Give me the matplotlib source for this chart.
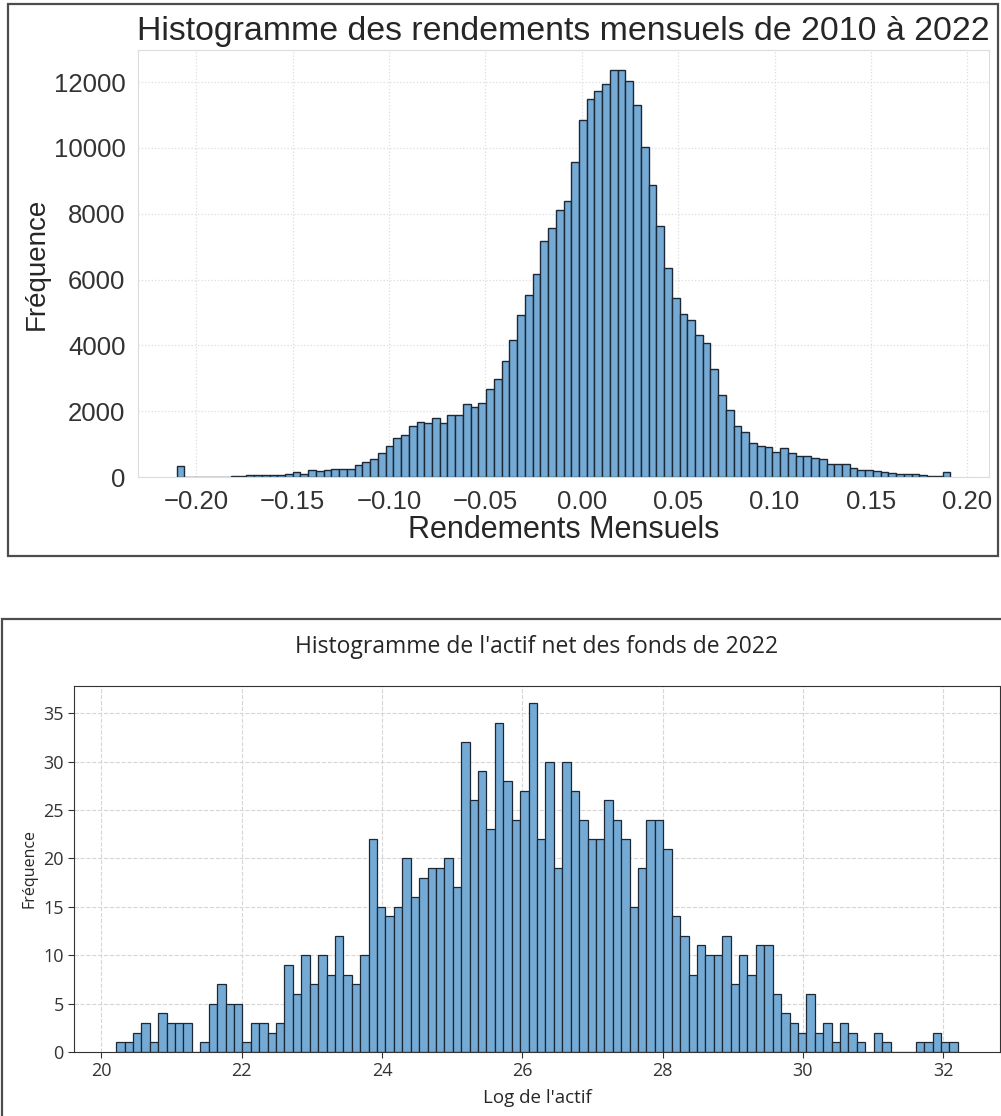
import numpy as np
import matplotlib.pyplot as plt
from matplotlib.patches import Rectangle

# Rendements mensuels 2010-2022 : 100 classes entre le min et le max
ret_min, ret_max = -0.2102, 0.1912
ret_counts = [330, 10, 5, 5, 5, 5, 10, 40, 40, 50,
              50, 50, 50, 60, 100, 150, 100, 200, 170, 220,
              250, 250, 250, 360, 460, 540, 740, 950, 1190, 1290,
              1550, 1670, 1630, 1780, 1630, 1875, 1875, 2220, 2140, 2260,
              2680, 2975, 3515, 4150, 4910, 5540, 6165, 7180, 7560, 8100,
              8385, 9580, 10850, 11485, 11720, 11940, 12360, 12360, 12025, 11310,
              10040, 8865, 7640, 6340, 5450, 4940, 4770, 4310, 4065, 3290,
              2500, 2040, 1550, 1375, 1040, 950, 920, 745, 890, 715,
              630, 630, 580, 540, 410, 380, 380, 285, 205, 205,
              175, 150, 130, 80, 80, 80, 70, 30, 20, 150]
ret_xticks = [-0.20, -0.15, -0.10, -0.05, 0.00, 0.05, 0.10, 0.15, 0.20]
ret_yticks = [0, 2000, 4000, 6000, 8000, 10000, 12000]

# Log de l'actif net des fonds en 2022 : 100 classes
actif_min, actif_max = 20.21, 32.21
actif_counts = [1, 1, 2, 3, 1, 4, 3, 3, 3, 0,
                1, 5, 7, 5, 5, 1, 3, 3, 2, 3,
                9, 6, 10, 7, 10, 8, 12, 8, 7, 10,
                22, 15, 14, 15, 20, 16, 18, 19, 19, 20,
                17, 32, 26, 29, 23, 34, 28, 24, 27, 36,
                22, 30, 19, 30, 27, 24, 22, 22, 26, 24,
                22, 15, 19, 24, 24, 21, 14, 12, 8, 11,
                10, 10, 12, 7, 10, 8, 11, 11, 6, 4,
                3, 2, 6, 2, 3, 1, 3, 2, 1, 0,
                2, 1, 0, 0, 0, 1, 1, 2, 1, 1]
actif_xticks = [20, 22, 24, 26, 28, 30, 32]
actif_yticks = [0, 5, 10, 15, 20, 25, 30, 35]

W, H = 1001, 1116
fig = plt.figure(figsize=(W / 100, H / 100), dpi=100)


def px(x0, y0, x1, y1):
    # boite en pixels (haut-gauche -> bas-droite) vers fractions de figure
    return [x0 / W, 1 - y1 / H, (x1 - x0) / W, (y1 - y0) / H]


# cadres des deux captures
fig.add_artist(Rectangle((8 / W, 1 - 556 / H), 990 / W, 552 / H,
                         transform=fig.transFigure, fill=False,
                         ec='#4d4d4d', lw=1.6))
fig.add_artist(Rectangle((2 / W, 1 - 1160 / H), 1040 / W, 541 / H,
                         transform=fig.transFigure, fill=False,
                         ec='#4d4d4d', lw=1.6))

bar_face = '#74aad4'
bar_edge = '#1c2835'

# ---- histogramme du haut ----
top_font = 'Liberation Sans'
ax1 = fig.add_axes(px(138, 50, 989, 477))
edges1 = np.linspace(ret_min, ret_max, len(ret_counts) + 1)
ax1.hist(edges1[:-1], bins=edges1, weights=ret_counts,
         color=bar_face, edgecolor=bar_edge, linewidth=1.0)
ax1.set_axisbelow(True)
ax1.grid(True, linestyle=':', color='#dddddd', linewidth=0.9)
for s in ax1.spines.values():
    s.set_color('#dcdcdc')
ax1.set_xticks(ret_xticks)
ax1.set_yticks(ret_yticks)
ax1.tick_params(length=0, labelsize=18.5, labelcolor='#333333', pad=9)
for lab in ax1.get_xticklabels() + ax1.get_yticklabels():
    lab.set_fontfamily(top_font)
ax1.set_title('Histogramme des rendements mensuels de 2010 à 2022',
              fontsize=24.4, color='#262626', pad=7, fontfamily=top_font)
ax1.set_xlabel('Rendements Mensuels', fontsize=22, color='#262626',
               labelpad=1, fontfamily=top_font)
ax1.set_ylabel('Fréquence', fontsize=20, color='#262626',
               labelpad=3, fontfamily=top_font)

# ---- histogramme du bas ----
bot_font = 'Open Sans'
ax2 = fig.add_axes(px(74, 686, 1000, 1052))
edges2 = np.linspace(actif_min, actif_max, len(actif_counts) + 1)
ax2.hist(edges2[:-1], bins=edges2, weights=actif_counts,
         color=bar_face, edgecolor=bar_edge, linewidth=0.9)
ax2.set_axisbelow(True)
ax2.grid(True, linestyle='--', color='#d6d6d6', linewidth=0.8)
for s in ax2.spines.values():
    s.set_color('#333333')
ax2.set_xticks(actif_xticks)
ax2.set_yticks(actif_yticks)
ax2.tick_params(labelsize=13, labelcolor='#333333', color='#333333', length=4)
for lab in ax2.get_xticklabels() + ax2.get_yticklabels():
    lab.set_fontfamily(bot_font)
ax2.set_title("Histogramme de l'actif net des fonds de 2022",
              fontsize=16.5, color='#262626', pad=24, fontfamily=bot_font)
ax2.set_xlabel("Log de l'actif", fontsize=13.5, color='#262626',
               labelpad=6, fontfamily=bot_font)
ax2.set_ylabel('Fréquence', fontsize=11.5, color='#262626',
               labelpad=4, fontfamily=bot_font)

fig.savefig('out.png', dpi=100)
